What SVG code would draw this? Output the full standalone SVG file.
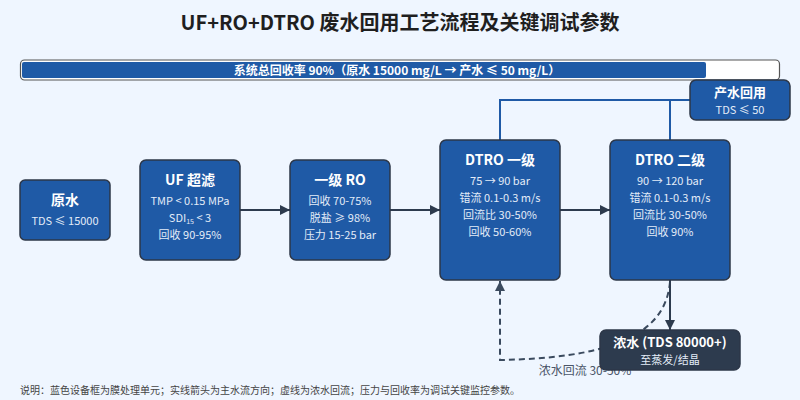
<svg xmlns="http://www.w3.org/2000/svg" width="800" height="400" viewBox="0 0 800 400">
<defs>
<style>
text{font-family:"Noto Sans CJK SC","Noto Sans",sans-serif;}
.node{fill:#1f5aa6;stroke:#2d3748;stroke-width:1.5;}
.dark{fill:#2d3b4e;stroke:#2d3748;stroke-width:1.5;}
.t{fill:#fff;font-size:14px;font-weight:700;text-anchor:middle;}
.s{fill:#e3ecf8;font-size:11px;text-anchor:middle;}
.main{stroke:#2d3b4e;stroke-width:2;fill:none;}
.prod{stroke:#1f5aa6;stroke-width:2;fill:none;}
.dash{stroke:#3a4a5e;stroke-width:2;fill:none;stroke-dasharray:6 4;}
</style>
<marker id="ah" viewBox="0 0 10 10" refX="10" refY="5" markerWidth="10" markerHeight="10" markerUnits="userSpaceOnUse" orient="auto">
<path d="M0,0 L10,5 L0,10 Z" fill="#2d3b4e"/>
</marker>
<marker id="ahd" viewBox="0 0 10 10" refX="10" refY="5" markerWidth="10" markerHeight="10" markerUnits="userSpaceOnUse" orient="auto">
<path d="M0,0 L10,5 L0,10 Z" fill="#3a4a5e"/>
</marker>
</defs>
<rect width="800" height="400" fill="#eff6ff"/>
<text x="400" y="30" text-anchor="middle" font-size="20" font-weight="700" fill="#1f1f1f">UF+RO+DTRO 废水回用工艺流程及关键调试参数</text>
<g id="progress">
<rect x="20.5" y="60" width="759" height="20" rx="4" fill="#fff" stroke="#555" stroke-width="1.2"/>
<rect x="22" y="62" width="684" height="16" rx="2" fill="#1f5aa6"/>
<text x="397" y="74.5" text-anchor="middle" font-size="12" font-weight="700" fill="#fff">系统总回收率 90%（原水 15000 mg/L → 产水 ≤ 50 mg/L）</text>
</g>
<g id="connectors">
<path class="main" d="M240,210 L290,210" marker-end="url(#ah)"/>
<path class="main" d="M390,210 L440,210" marker-end="url(#ah)"/>
<path class="main" d="M560,210 L610,210" marker-end="url(#ah)"/>
<path class="prod" d="M500,140 L500,100 L690,100"/>
<path class="prod" d="M670,140 L670,100"/>
<path class="dash" d="M670,282 C665,340 600,358 500,360 L500,281" marker-end="url(#ahd)"/>
<path class="main" d="M670,280 L670,330" marker-end="url(#ah)"/>
<text x="585" y="375" text-anchor="middle" font-size="12" fill="#4a5568">浓水回流 30-50%</text>
</g>
<g id="raw">
<rect class="node" x="20" y="180" width="90" height="60" rx="5"/>
<text class="t" x="65" y="205">原水</text>
<text class="s" x="65" y="225">TDS ≤ 15000</text>
</g>
<g id="uf">
<rect class="node" x="140" y="160" width="100" height="100" rx="6"/>
<text class="t" x="190" y="185">UF 超滤</text>
<text class="s" x="190" y="205">TMP &lt; 0.15 MPa</text>
<text class="s" x="190" y="222">SDI<tspan font-size="7" dy="2">15</tspan><tspan dy="-2"> &lt; 3</tspan></text>
<text class="s" x="190" y="239">回收 90-95%</text>
</g>
<g id="ro">
<rect class="node" x="290" y="160" width="100" height="100" rx="6"/>
<text class="t" x="340" y="185">一级 RO</text>
<text class="s" x="340" y="205">回收 70-75%</text>
<text class="s" x="340" y="222">脱盐 ≥ 98%</text>
<text class="s" x="340" y="239">压力 15-25 bar</text>
</g>
<g id="dtro1">
<rect class="node" x="440" y="140" width="120" height="140" rx="6"/>
<text class="t" x="500" y="165">DTRO 一级</text>
<text class="s" x="500" y="185">75 → 90 bar</text>
<text class="s" x="500" y="202">错流 0.1-0.3 m/s</text>
<text class="s" x="500" y="219">回流比 30-50%</text>
<text class="s" x="500" y="236">回收 50-60%</text>
</g>
<g id="dtro2">
<rect class="node" x="610" y="140" width="120" height="140" rx="6"/>
<text class="t" x="670" y="165">DTRO 二级</text>
<text class="s" x="670" y="185">90 → 120 bar</text>
<text class="s" x="670" y="202">错流 0.1-0.3 m/s</text>
<text class="s" x="670" y="219">回流比 30-50%</text>
<text class="s" x="670" y="236">回收 90%</text>
</g>
<g id="product">
<rect class="node" x="690" y="80" width="100" height="40" rx="6"/>
<text class="t" x="740" y="97" style="font-size:13px">产水回用</text>
<text class="s" x="740" y="114">TDS ≤ 50</text>
</g>
<g id="concentrate">
<rect class="dark" x="600" y="330" width="140" height="40" rx="6"/>
<text class="t" x="670" y="347" style="font-size:13px">浓水 (TDS 80000+)</text>
<text class="s" x="670" y="364">至蒸发/结晶</text>
</g>
<text x="20" y="394" font-size="10" fill="#444">说明：蓝色设备框为膜处理单元；实线箭头为主水流方向；虚线为浓水回流；压力与回收率为调试关键监控参数。</text>
</svg>
